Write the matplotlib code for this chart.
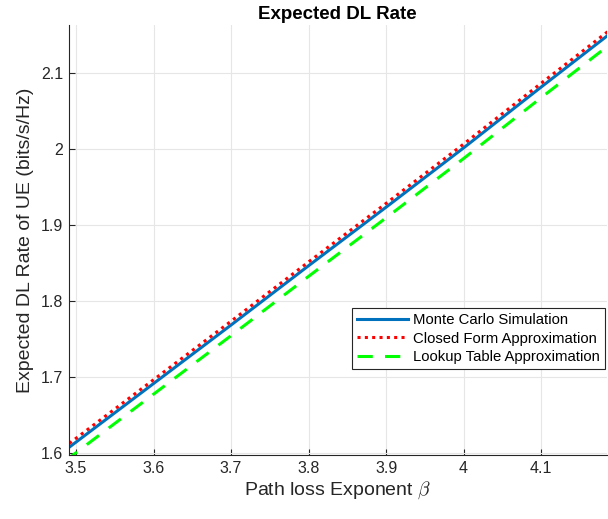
import numpy as np
import matplotlib
matplotlib.use("Agg")
import matplotlib.pyplot as plt

# path loss exponent values and the three rate curves (bits/s/Hz)
beta = [3.4, 3.5, 3.6, 3.7, 3.8, 3.9, 4.0, 4.1, 4.2]
rate_mc = [1.538, 1.615, 1.692, 1.769, 1.847, 1.924, 2.002, 2.082, 2.161]
rate_closed = [1.543, 1.620, 1.697, 1.774, 1.852, 1.929, 2.007, 2.087, 2.166]
rate_lookup = [1.524, 1.601, 1.678, 1.755, 1.833, 1.910, 1.988, 2.068, 2.147]

x_ticks = [3.5, 3.6, 3.7, 3.8, 3.9, 4.0, 4.1]
x_tick_labels = ["3.5", "3.6", "3.7", "3.8", "3.9", "4", "4.1"]
y_ticks = [1.6, 1.7, 1.8, 1.9, 2.0, 2.1]
y_tick_labels = ["1.6", "1.7", "1.8", "1.9", "2", "2.1"]

plt.rcParams["font.family"] = ["Liberation Sans", "DejaVu Sans"]
plt.rcParams["mathtext.fontset"] = "cm"

dark = "#262626"

fig = plt.figure(figsize=(6.08, 5.19), dpi=100)
ax = fig.add_axes([0.1127, 0.1233, 0.8857, 0.8285])

ax.plot(beta, rate_mc, color="#0072BD", lw=2.2, label="Monte Carlo Simulation")
ax.plot(beta, rate_closed, color="#FF0000", lw=2.2, linestyle=(0, (1, 1.4)),
        label="Closed Form Approximation")
ax.plot(beta, rate_lookup, color="#00FF00", lw=2.2, linestyle=(0, (5, 4)),
        label="Lookup Table Approximation")

ax.set_xlim(3.4903, 4.185)
ax.set_ylim(1.598, 2.1636)
ax.set_xticks(x_ticks)
ax.set_xticklabels(x_tick_labels)
ax.set_yticks(y_ticks)
ax.set_yticklabels(y_tick_labels)

# box off: only left and bottom axis lines
for side in ["top", "right"]:
    ax.spines[side].set_visible(False)
for side in ["left", "bottom"]:
    ax.spines[side].set_color(dark)
    ax.spines[side].set_linewidth(0.8)

ax.tick_params(direction="in", length=4, width=0.8, colors=dark,
               labelsize=11.5, pad=4)
ax.grid(True, color="#e6e6e6", linewidth=0.8)
ax.set_axisbelow(True)

ax.set_xlabel(r"Path loss Exponent $\beta$", fontsize=14, color=dark, labelpad=3)
ax.set_ylabel("Expected DL Rate of UE (bits/s/Hz)", fontsize=14, color=dark,
              labelpad=5)
ax.set_title("Expected DL Rate", fontsize=13.5, fontweight="bold", pad=4)

leg = ax.legend(loc="upper left", bbox_to_anchor=(0.5265, 0.342),
                borderaxespad=0, fontsize=10.7, handlelength=3.4,
                handletextpad=0.35, labelspacing=0.3, borderpad=0.35,
                fancybox=False, framealpha=1, edgecolor=dark)
leg.get_frame().set_linewidth(0.8)

fig.savefig("out.png", dpi=100)
